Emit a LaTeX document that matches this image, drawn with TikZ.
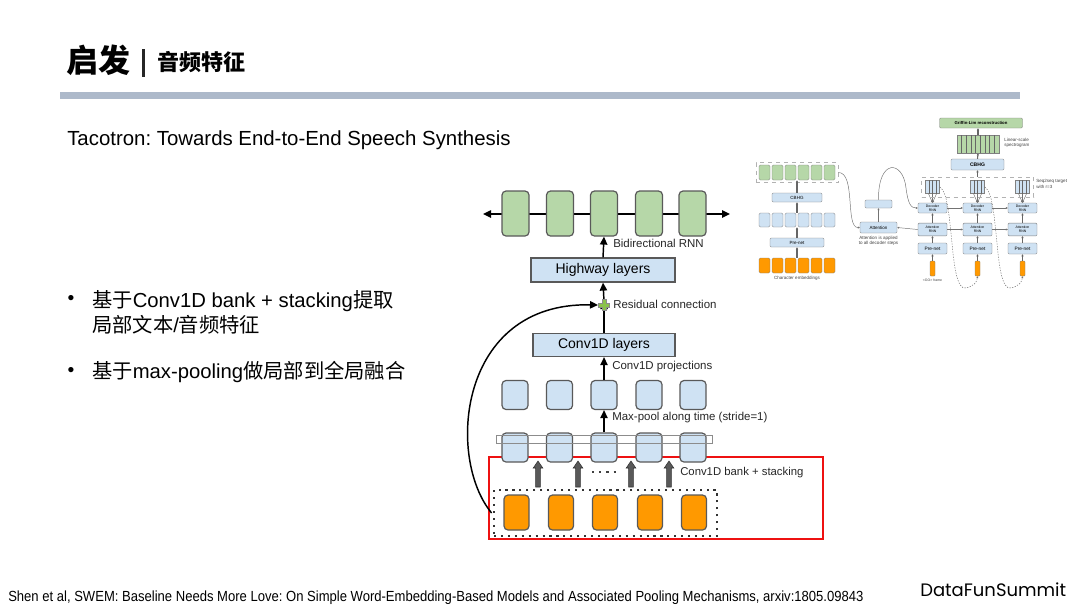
\documentclass[tikz,border=0pt]{standalone}
\usepackage{fontspec}
\setmainfont{Liberation Sans}
\newfontfamily\cjk{Noto Sans CJK SC}
\newfontfamily\pop{Poppins}
\usetikzlibrary{arrows.meta}
\definecolor{gfill}{HTML}{B6D7A8}
\definecolor{bfill}{HTML}{CFE2F3}
\definecolor{ofill}{HTML}{FF9900}
\definecolor{edgec}{HTML}{595959}
\definecolor{barc}{HTML}{ADB9CA}
\definecolor{redc}{HTML}{EE1111}
\definecolor{plusg}{HTML}{8BC34A}
\frenchspacing
\begin{document}
\begin{tikzpicture}[x=0.75pt,y=-0.75pt,
  cell/.style={draw=edgec, line width=0.9pt, rounded corners=3pt, inner sep=0pt},
  rnn/.style={cell, fill=gfill, minimum width=20.25pt, minimum height=33.75pt},
  sq/.style={cell, fill=bfill, minimum width=19.5pt, minimum height=21.75pt},
  emb/.style={cell, fill=ofill, minimum width=18.75pt, minimum height=26.25pt},
  layer/.style={draw=edgec, line width=0.9pt, fill=bfill, inner sep=0pt, font=\fontsize{10.5}{12}\selectfont},
  arr/.style={line width=1.1pt, -{Triangle[length=6pt,width=5.5pt]}},
  lab/.style={anchor=west, inner sep=0pt, font=\fontsize{8.6}{9}\selectfont, text=black!85},
  tcell/.style={draw=black!50, line width=0.3pt, rounded corners=1pt, inner sep=0pt, minimum width=8.25pt, minimum height=11.25pt},
  tb/.style={draw=black!50, line width=0.3pt, fill=bfill, inner sep=0pt, rounded corners=0.8pt, align=center, font=\fontsize{3.4}{3.6}\selectfont},
  tsmall/.style={inner sep=0pt, align=center, font=\fontsize{3.4}{4}\selectfont, text=black!75},
  tarr/.style={line width=0.8pt, draw=black!60, -{Triangle[length=1.6pt,width=1.6pt]}},
  tthin/.style={line width=0.35pt, draw=black!55, -{Triangle[length=1.4pt,width=1.4pt]}},
  tdarr/.style={line width=0.35pt, draw=black!55, dashed, dash pattern=on 1pt off 1pt, -{Triangle[length=1.4pt,width=1.4pt]}},
  pluspic/.pic={\filldraw[fill=plusg, draw=black!45, line width=0.3pt]
     (-1.8,-5.5) -- (1.8,-5.5) -- (1.8,-1.8) -- (5.5,-1.8) -- (5.5,1.8) -- (1.8,1.8) -- (1.8,5.5)
     -- (-1.8,5.5) -- (-1.8,1.8) -- (-5.5,1.8) -- (-5.5,-1.8) -- (-1.8,-1.8) -- cycle;},
  blockarrow/.pic={\filldraw[fill=black!65, draw=black!80, line width=0.4pt]
     (-2.4,0) -- (-2.4,-19) -- (-4.8,-19) -- (0,-26) -- (4.8,-19) -- (2.4,-19) -- (2.4,0) -- cycle;}
]
\useasboundingbox (0,0) rectangle (1080,608);

% ---------- header ----------
\node[anchor=west, inner sep=0pt, font=\cjk\bfseries\fontsize{24}{26}\selectfont] (title) at (66,60) {启发};
\fill[black!85] (142,49) rectangle (145,77);
\node[anchor=west, inner sep=0pt, font=\cjk\bfseries\fontsize{16.5}{18}\selectfont] (subtitle) at (157,62) {音频特征};
\fill[barc] (60,92) rectangle (1020,99);

\node[anchor=west, inner sep=0pt, font=\fontsize{15.3}{17}\selectfont] (paper) at (67,140) {Tacotron: Towards End-to-End Speech Synthesis};

% ---------- bullets ----------
\node[inner sep=0pt, font=\fontsize{14.5}{16}\selectfont] (dot1) at (71,300) {•};
\node[inner sep=0pt, font=\fontsize{14.5}{16}\selectfont] (dot2) at (71,372) {•};
\node[anchor=west, inner sep=0pt, align=left, font=\fontsize{15.2}{18.75}\selectfont] (b1) at (92,312.5)
  {{\cjk 基于}Conv1D bank + stacking{\cjk 提取}\\{\cjk 局部文本}/{\cjk 音频特征}};
\node[anchor=west, inner sep=0pt, font=\fontsize{15.2}{16}\selectfont] (b2) at (92,372)
  {{\cjk 基于}max-pooling{\cjk 做局部到全局融合}};

% ---------- footer ----------
\node[anchor=west, inner sep=0pt, font=\fontsize{11}{12}\selectfont] (foot) at (8,598)
  {\scalebox{0.89}[1]{Shen et al, SWEM: Baseline Needs More Love: On Simple Word-Embedding-Based Models and Associated Pooling Mechanisms, arxiv:1805.09843}};
\node[anchor=west, inner sep=0pt, font=\pop\fontsize{13.5}{15}\selectfont] (brand) at (920,590) {DataFunSummit};

% ---------- main diagram ----------
\node[draw=redc, line width=1.6pt, minimum width=250.5pt, minimum height=61.5pt, inner sep=0pt] (redbox) at (656,498) {};

% top RNN row
\coordinate (rl) at (483,214);
\coordinate (rr) at (730,214);
\draw[line width=1.1pt, {Triangle[length=6pt,width=5.5pt]}-{Triangle[length=6pt,width=5.5pt]}] (rl) -- (rr);
\foreach \i/\x in {1/515.5,2/560,3/604,4/649,5/692.5}{
  \node[rnn] (r\i) at (\x,213.5) {};
}
\node[layer, minimum width=108pt, minimum height=18pt] (hw) at (603,270) {Highway layers};
\node[layer, minimum width=106.5pt, minimum height=17.25pt] (conv) at (604,345) {Conv1D layers};
\coordinate (plus) at (604,305);

\foreach \i/\x in {1/515,2/559.5,3/604,4/649,5/693}{
  \node[sq] (m\i) at (\x,395) {};
  \node[sq] (l\i) at (\x,447.5) {};
}
\node[draw=black!45, line width=0.6pt, minimum width=162pt, minimum height=6.5pt, inner sep=0pt] (strip) at (604,439.5) {};

\node[draw=black!80, line width=1.6pt, dash pattern=on 1.6pt off 3.6pt, minimum width=167.25pt, minimum height=34.5pt, inner sep=0pt] (dotbox) at (605.5,513) {};
\foreach \i/\x in {1/516.5,2/561,3/605,4/650,5/694}{
  \node[emb] (e\i) at (\x,512.5) {};
}

\pic (ba1) at (538,487) {blockarrow};
\pic (ba2) at (578,487) {blockarrow};
\pic (ba3) at (631,487) {blockarrow};
\pic (ba4) at (669,487) {blockarrow};
\coordinate (dl) at (592,472);
\coordinate (dr) at (616,472);
\draw[line width=1.8pt, black!75, dash pattern=on 1.6pt off 3.8pt] (dl) -- (dr);

\draw[arr] (hw.north) -- (r3.south);
\draw[arr] (plus) ++(0,-4) -- (hw.south);
\draw[arr] (conv.north) -- ([yshift=3pt]plus);
\draw[arr] (m3.north) -- (conv.south);
\draw[arr] (l3.north) -- (m3.south);
\draw[line width=1.1pt, -{Triangle[length=6pt,width=5.5pt]}] ([xshift=-1pt]dotbox.west) .. controls (446,458) and (458,302) .. ([xshift=-4.5pt]plus);
\pic (plussign) at (plus) {pluspic};

\node[lab] (lbrnn) at (613,243) {Bidirectional RNN};
\node[lab] (lbres) at (613,304) {Residual connection};
\node[lab] (lbproj) at (612,367) {Conv1D projections};
\node[lab] (lbpool) at (612,418) {Max-pool along time (stride=1)};
\node[lab, font=\fontsize{8.5}{9}\selectfont] (lbbank) at (680,473) {Conv1D bank + stacking};

% ---------- thumbnail ----------
\node[draw=black!30, dashed, line width=0.3pt, minimum width=61.5pt, minimum height=15pt, inner sep=0pt] (tgbox) at (797,172.5) {};
\foreach \i/\x in {1/764.5,2/777.5,3/790.5,4/803.5,5/816.5,6/829.5}{
  \node[tcell, fill=gfill] (tg\i) at (\x,172.5) {};
  \node[tcell, fill=bfill, minimum height=10.5pt] (tbl\i) at (\x,220) {};
  \node[tcell, fill=ofill] (to\i) at (\x,265.5) {};
}
\node[tb, minimum width=37.5pt, minimum height=6.75pt] (tcbhg1) at (797,197.5) {CBHG};
\node[tb, minimum width=40.5pt, minimum height=6.75pt] (tpre1) at (797,242.5) {Pre-net};
\node[tsmall] (tce) at (797,278.5) {Character embeddings};
\draw[tarr] (tpre1.south |- to3.north) -- (tpre1.south);
\draw[tarr] (tpre1.north) -- (tpre1.north |- tbl3.south);
\draw[tarr] (tcbhg1.south |- tbl3.north) -- (tcbhg1.south);
\draw[tarr] (tcbhg1.north) -- (tcbhg1.north |- tg3.south);

\node[tb, minimum width=27.75pt, minimum height=8.25pt] (tatt) at (878.5,227.5) {Attention};
\node[tb, minimum width=20.25pt, minimum height=6pt] (tctx) at (878.5,204) {};
\node[tsmall] (tnote) at (878.5,240.5) {Attention is applied\\to all decoder steps};
\draw[tthin] (tatt.north) -- (tctx.south);
\draw[tthin] (tgbox.east) .. controls (856,172) and (845,228) .. (tatt.west);

\foreach \i/\x in {1/932.5,2/977.5,3/1022.5}{
  \node[tb, minimum width=21.75pt, minimum height=7.5pt, font=\fontsize{2.6}{2.8}\selectfont] (td\i) at (\x,208) {Decoder\\RNN};
  \node[tb, minimum width=21.75pt, minimum height=9.5pt, font=\fontsize{2.6}{2.8}\selectfont] (ta\i) at (\x,229.5) {Attention\\RNN};
  \node[tb, minimum width=21.75pt, minimum height=8.25pt, font=\fontsize{3.6}{4}\selectfont] (tp\i) at (\x,248.5) {Pre-net};
  \node[tcell, fill=ofill, minimum width=3.75pt, minimum height=11.25pt, rounded corners=0.6pt] (tf\i) at (\x,268.5) {};
  \node[tb, rounded corners=0pt, minimum width=10.5pt, minimum height=9.75pt] (ts\i) at (\x,187) {};
  \foreach \k in {1,2,3}{
    \draw[black!60, line width=0.3pt] ([xshift=\k*2.625pt]ts\i.south west) -- ([xshift=\k*2.625pt]ts\i.north west);
  }
  \draw[tarr, line width=0.5pt] (tf\i.north) -- (tp\i.south);
  \draw[tarr, line width=0.5pt] (tp\i.north) -- (ta\i.south);
  \draw[tarr, line width=0.5pt] (ta\i.north) -- (td\i.south);
  \draw[tthin] ([xshift=-3pt]ts\i.south) -- (td\i.north);
  \draw[tthin] (ts\i.south) -- (td\i.north);
  \draw[tthin] ([xshift=3pt]ts\i.south) -- (td\i.north);
}
\draw[tthin] (tctx.north) .. controls (878,158) and (903,160) .. (906,188) .. controls (908,204) and (911,208) .. (td1.west);
\draw[tthin] (ta1.west) -- (tatt.east);
\draw[tthin] (td1.east) -- (td2.west);
\draw[tthin] (td2.east) -- (td3.west);
\draw[tthin] (ta1.east) -- (ta2.west);
\draw[tthin] (ta2.east) -- (ta3.west);
\draw[tdarr] (ts1.east) .. controls (955,195) and (948,292) .. (966,288) .. controls (974,286) and (977,282) .. (tf2.south);
\draw[tdarr] (ts2.east) .. controls (1000,195) and (993,292) .. (1011,288) .. controls (1019,286) and (1022,282) .. (tf3.south);
\node[tsmall, font=\fontsize{2.6}{3}\selectfont] (tgo) at (932.5,280.5) {<GO> frame};

\node[draw=black!30, dashed, line width=0.3pt, minimum width=84pt, minimum height=15pt, inner sep=0pt] (tsbox) at (977.5,187) {};
\node[tb, minimum width=39.75pt, minimum height=8.25pt, font=\bfseries\fontsize{3.8}{4}\selectfont] (tcbhg2) at (977.5,164.5) {CBHG};
\node[tb, fill=gfill, rounded corners=0pt, minimum width=31.5pt, minimum height=13.5pt] (tspec) at (978,144) {};
\foreach \k in {1,...,8}{
  \draw[black!60, line width=0.3pt] ([xshift=\k*3.5pt]tspec.south west) -- ([xshift=\k*3.5pt]tspec.north west);
}
\node[tb, fill=gfill, minimum width=62.25pt, minimum height=7.5pt, font=\bfseries\fontsize{3.2}{3.6}\selectfont] (tgl) at (981,123) {Griffin-Lim reconstruction};
\draw[tarr] (tsbox.north) -- (tcbhg2.south);
\draw[tarr] (tcbhg2.north) -- (tspec.south);
\draw[tarr] (tspec.north) -- (tspec.north |- tgl.south);
\node[tsmall, anchor=west, align=left] (tlin) at (1004,143) {Linear-scale\\spectrogram};
\node[tsmall, anchor=west, align=left] (tseq) at (1036,184) {Seq2seq target\\with r=3};
\end{tikzpicture}
\end{document}
